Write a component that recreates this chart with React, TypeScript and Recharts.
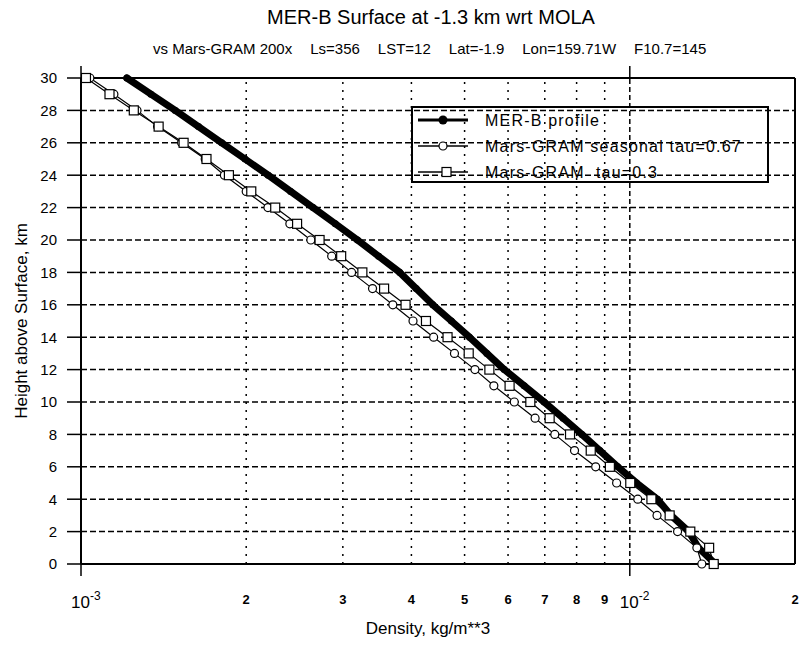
import React from "react";
import { ScatterChart, Scatter, XAxis, YAxis, ReferenceLine } from "recharts";

const FONT = "'Liberation Sans', Arial, sans-serif";

// height above surface, km
const heights = [0, 1, 2, 3, 4, 5, 6, 7, 8, 9, 10, 11, 12, 13, 14, 15, 16, 17, 18, 19, 20, 21, 22, 23, 24, 25, 26, 27, 28, 29, 30];

// density, kg/m**3 (same order as heights)
const merB = [
  1.432e-2, 1.334e-2, 1.281e-2, 1.189e-2, 1.123e-2, 1.029e-2, 9.51e-3, 8.82e-3, 8.18e-3, 7.56e-3,
  6.98e-3, 6.42e-3, 5.907e-3, 5.49e-3, 5.105e-3, 4.73e-3, 4.377e-3, 4.08e-3, 3.81e-3, 3.486e-3,
  3.19e-3, 2.907e-3, 2.648e-3, 2.41e-3, 2.193e-3, 1.99e-3, 1.805e-3, 1.637e-3, 1.485e-3, 1.341e-3,
  1.212e-3,
];
const seasonal = [
  1.353e-2, 1.325e-2, 1.222e-2, 1.121e-2, 1.034e-2, 9.462e-3, 8.666e-3, 7.93e-3, 7.3e-3, 6.721e-3,
  6.159e-3, 5.653e-3, 5.222e-3, 4.792e-3, 4.391e-3, 4.027e-3, 3.7e-3, 3.398e-3, 3.112e-3, 2.863e-3,
  2.623e-3, 2.402e-3, 2.191e-3, 2.0e-3, 1.825e-3, 1.684e-3, 1.525e-3, 1.379e-3, 1.265e-3, 1.148e-3,
  1.038e-3,
];
const tau03 = [
  1.422e-2, 1.395e-2, 1.289e-2, 1.182e-2, 1.095e-2, 1.002e-2, 9.198e-3, 8.488e-3, 7.782e-3, 7.144e-3,
  6.588e-3, 6.039e-3, 5.548e-3, 5.087e-3, 4.655e-3, 4.252e-3, 3.903e-3, 3.567e-3, 3.256e-3, 2.979e-3,
  2.721e-3, 2.476e-3, 2.259e-3, 2.043e-3, 1.86e-3, 1.693e-3, 1.538e-3, 1.385e-3, 1.248e-3, 1.127e-3,
  1.021e-3,
];

const yTicks = [0, 2, 4, 6, 8, 10, 12, 14, 16, 18, 20, 22, 24, 26, 28, 30];
const xTicks = [0.001, 0.002, 0.003, 0.004, 0.005, 0.006, 0.007, 0.008, 0.009, 0.01, 0.02];
const minorX = [0.002, 0.003, 0.004, 0.005, 0.006, 0.007, 0.008, 0.009];
const xLabels = ["10|-3", "2", "3", "4", "5", "6", "7", "8", "9", "10|-2", "2"];

const subtitleParts = ["vs Mars-GRAM 200x", "Ls=356", "LST=12", "Lat=-1.9", "Lon=159.71W", "F10.7=145"];
const legendLabels = ["MER-B profile", "Mars-GRAM seasonal tau=0.67", "Mars-GRAM  tau=0.3"];

const TOP = 78;
const BOTTOM = 564;

const toPoints = (vals: number[]) => vals.map((v, i) => ({ x: v, y: heights[i] }));

function XTick(props: any) {
  const { x, index } = props;
  const label = xLabels[index] ?? "";
  if (label.includes("|")) {
    const [base, exp] = label.split("|");
    return (
      <g>
        <line x1={x} x2={x} y1={BOTTOM} y2={BOTTOM + 12} stroke="#000" strokeWidth={1.5} />
        <line x1={x} x2={x} y1={TOP - 12} y2={TOP} stroke="#000" strokeWidth={1.5} />
        <text x={x - 10} y={BOTTOM + 44} fontSize={17} fontFamily={FONT} fill="#000">
          {base}
          <tspan dy={-8} fontSize={12}>{exp}</tspan>
        </text>
      </g>
    );
  }
  return (
    <text x={x} y={BOTTOM + 40} textAnchor="middle" fontSize={13} fontWeight="bold" fontFamily={FONT} fill="#000">
      {label}
    </text>
  );
}

const openCircle = (p: any) => <circle cx={p.cx} cy={p.cy} r={4} fill="#fff" stroke="#000" strokeWidth={1.2} />;
const openSquare = (p: any) => <rect x={p.cx - 4.5} y={p.cy - 4.5} width={9} height={9} fill="#fff" stroke="#000" strokeWidth={1.2} />;
const dot = (p: any) => <circle cx={p.cx} cy={p.cy} r={3.5} fill="#000" />;

function LegendBox() {
  const kinds = ["dot", "circle", "square"];
  return (
    <svg width={804} height={649} style={{ position: "absolute", left: 0, top: 0, pointerEvents: "none" }}>
      <rect x={412} y={107} width={356} height={75} fill="none" stroke="#000" strokeWidth={2} />
      {legendLabels.map((label, i) => {
        const cy = 120 + i * 26;
        const kind = kinds[i];
        return (
          <g key={label}>
            <line x1={418} x2={468} y1={cy} y2={cy} stroke="#000" strokeWidth={kind === "dot" ? 3 : 1.5} />
            {kind === "dot" && <circle cx={443} cy={cy} r={4.5} fill="#000" />}
            {kind === "circle" && <circle cx={443} cy={cy} r={4} fill="#fff" stroke="#000" strokeWidth={1.2} />}
            {kind === "square" && <rect x={442} y={cy - 4.5} width={9} height={9} fill="#fff" stroke="#000" strokeWidth={1.2} />}
            <text
              x={485}
              y={cy + 6}
              fontSize={16}
              letterSpacing={1.2}
              fontFamily={FONT}
              fill="#000"
              style={{ whiteSpace: "pre" }}
            >
              {label}
            </text>
          </g>
        );
      })}
    </svg>
  );
}

export default function App() {
  return (
    <div style={{ position: "absolute", left: 0, top: 0, width: 804, height: 649, background: "#fff", fontFamily: FONT }}>
      <div style={{ position: "absolute", left: 0, width: 862, top: 6, textAlign: "center", fontSize: 20 }}>
        MER-B Surface at -1.3 km wrt MOLA
      </div>
      <div style={{ position: "absolute", left: 153, top: 40, fontSize: 15, whiteSpace: "nowrap", display: "flex", gap: 18 }}>
        {subtitleParts.map((s) => (
          <span key={s}>{s}</span>
        ))}
      </div>
      <ScatterChart width={804} height={649} margin={{ top: TOP, right: 9, bottom: 35, left: 0 }}>
        <XAxis
          type="number"
          dataKey="x"
          scale="log"
          domain={[0.001, 0.02]}
          ticks={xTicks}
          interval={0}
          allowDataOverflow
          tick={<XTick />}
          tickLine={false}
          axisLine={{ stroke: "#000", strokeWidth: 2 }}
          height={50}
        />
        <YAxis
          type="number"
          dataKey="y"
          domain={[0, 30]}
          ticks={yTicks}
          interval={0}
          width={81}
          tickSize={14}
          tickMargin={10}
          tickLine={{ stroke: "#000", strokeWidth: 1.5 }}
          axisLine={{ stroke: "#000", strokeWidth: 2 }}
          tick={{ fill: "#000", fontSize: 15, fontFamily: FONT }}
        />
        {yTicks.slice(1, -1).map((v) => (
          <ReferenceLine key={"h" + v} y={v} stroke="#000" strokeWidth={1.5} strokeDasharray="6 3" />
        ))}
        {minorX.map((v) => (
          <ReferenceLine key={"v" + v} x={v} stroke="#000" strokeWidth={1.5} strokeDasharray="2 6" />
        ))}
        <ReferenceLine x={0.01} stroke="#000" strokeWidth={1.5} strokeDasharray="5 3" />
        <ReferenceLine x={0.02} stroke="#000" strokeWidth={2} />
        <ReferenceLine y={30} stroke="#000" strokeWidth={2} />
        <Scatter
          data={toPoints(merB)}
          line={{ stroke: "#000", strokeWidth: 7, strokeLinecap: "round", strokeLinejoin: "round" }}
          shape={dot}
          fill="#000"
          isAnimationActive={false}
        />
        <Scatter
          data={toPoints(seasonal)}
          line={{ stroke: "#000", strokeWidth: 1.2 }}
          shape={openCircle}
          fill="#fff"
          isAnimationActive={false}
        />
        <Scatter
          data={toPoints(tau03)}
          line={{ stroke: "#000", strokeWidth: 1.2 }}
          shape={openSquare}
          fill="#fff"
          isAnimationActive={false}
        />
      </ScatterChart>
      <LegendBox />
      <div style={{ position: "absolute", left: 0, width: 856, top: 619, textAlign: "center", fontSize: 17 }}>
        Density, kg/m**3
      </div>
      <div
        style={{
          position: "absolute",
          left: 22,
          top: 321,
          fontSize: 17,
          whiteSpace: "nowrap",
          transform: "translate(-50%, -50%) rotate(-90deg)",
        }}
      >
        Height above Surface, km
      </div>
    </div>
  );
}
